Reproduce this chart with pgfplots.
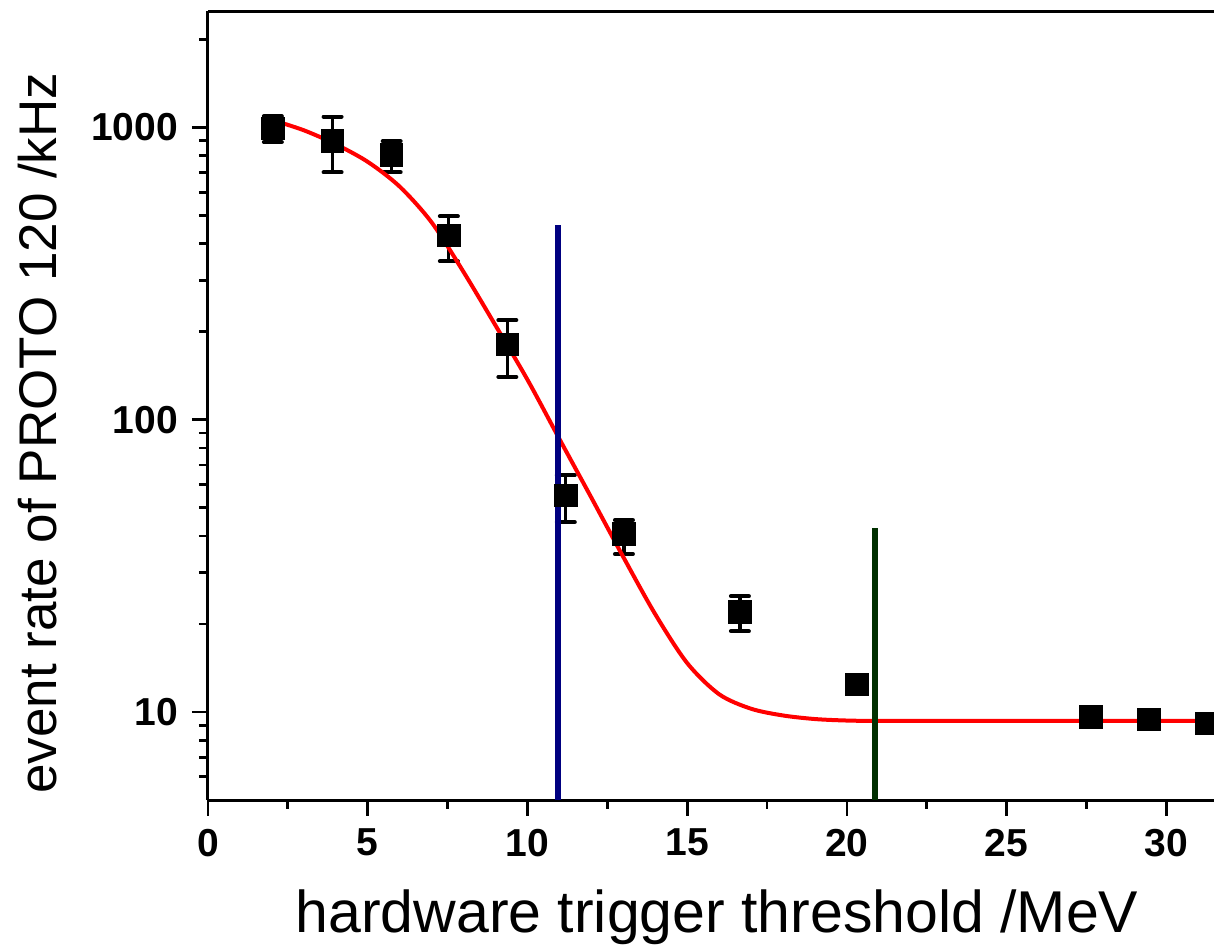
\documentclass[border=0pt]{standalone}
\usepackage{fontspec}
\setmainfont{Liberation Sans}
\usepackage{pgfplots}
\pgfplotsset{compat=1.18}

\definecolor{fitred}{RGB}{255,0,0}
\definecolor{cutblue}{RGB}{0,0,128}
\definecolor{cutgreen}{RGB}{0,48,0}

\begin{document}
\begin{tikzpicture}
\begin{axis}[
  scale only axis,
  width=503pt, height=394.5pt,
  xmin=0, xmax=31.49,
  ymode=log, ymin=5, ymax=2500,
  axis x line*=bottom, axis y line*=left,
  axis line style={line width=1.5pt},
  xtick={0,5,10,15,20,25,30},
  minor xtick={2.5,7.5,12.5,17.5,22.5,27.5},
  ytick={10,100,1000},
  yticklabels={10,100,1000},
  minor ytick={6,7,8,9,20,30,40,50,60,70,80,90,200,300,400,500,600,700,800,900,2000},
  tick align=outside,
  major tick length=8pt, minor tick length=4.5pt,
  every tick/.style={black, line width=1.4pt},
  /pgf/number format/assume math mode=true,
  tick label style={font=\bfseries\fontsize{19.5pt}{19.5pt}\selectfont},
  xticklabel style={yshift=-3pt},
  yticklabel style={xshift=-3.5pt},
  xlabel={hardware trigger threshold /MeV},
  ylabel={event rate of PROTO 120 /kHz},
  xlabel style={font=\fontsize{29.5pt}{30pt}\selectfont, at={(axis description cs:0.506,-0.1673)}, anchor=base, inner sep=0pt},
  ylabel style={font=\fontsize{26.5pt}{27pt}\selectfont, at={(axis description cs:-0.169,0.465)}, anchor=center, inner sep=0pt},
  clip=true,
]
% measured rates with error bars
\addplot[only marks, mark=square*, mark size=5.6pt, black,
  error bars/.cd, y dir=both, y explicit,
  error bar style={line width=1.6pt, black},
  error mark options={rotate=90, mark size=4.5pt, line width=2pt, line cap=round, black}]
  coordinates {
  (2.03,990) +- (0,100)
  (3.90,899) += (0,190) -= (0,197)
  (5.75,805) += (0,91) -= (0,103)
  (7.54,426) += (0,70) -= (0,78)
  (9.37,181) += (0,38) -= (0,41)
  (11.20,55.2) += (0,9.3) -= (0,10.6)
  (13.02,40.7) += (0,4.6) -= (0,6)
  (16.65,22.0) += (0,2.9) -= (0,3.1)
  (20.31,12.4) +- (0,0.5)
  (27.63,9.63) +- (0,0.3)
  (29.45,9.43) +- (0,0.3)
  (31.26,9.15) +- (0,0.3)
  };
% fitted curve
\addplot[fitred, line width=2pt, smooth] coordinates {
  (2.04,1057) (3,977) (4,875) (5,762) (6,627) (7,473) (8,320)
  (9,210) (10,137) (11,85.9) (12,54.1) (13,33.9) (14,21.6)
  (15,14.7) (16,11.5) (17,10.26) (18,9.73) (19,9.46) (20,9.35)
  (21,9.33) (26,9.33) (31.6,9.33)
};
% threshold markers
\addplot[cutblue, line width=2.8pt] coordinates {(10.95,5) (10.95,462)};
\addplot[cutgreen, line width=2.6pt] coordinates {(20.88,5) (20.88,42.5)};
\draw[line width=1.6pt] (rel axis cs:0,1) -- (rel axis cs:1,1);
\coordinate (o) at (rel axis cs:0,0);
\end{axis}
\pgfresetboundingbox
\path[use as bounding box, shift={(o)}] (-104pt,-72pt) rectangle (503pt,400pt);
\end{tikzpicture}
\end{document}
